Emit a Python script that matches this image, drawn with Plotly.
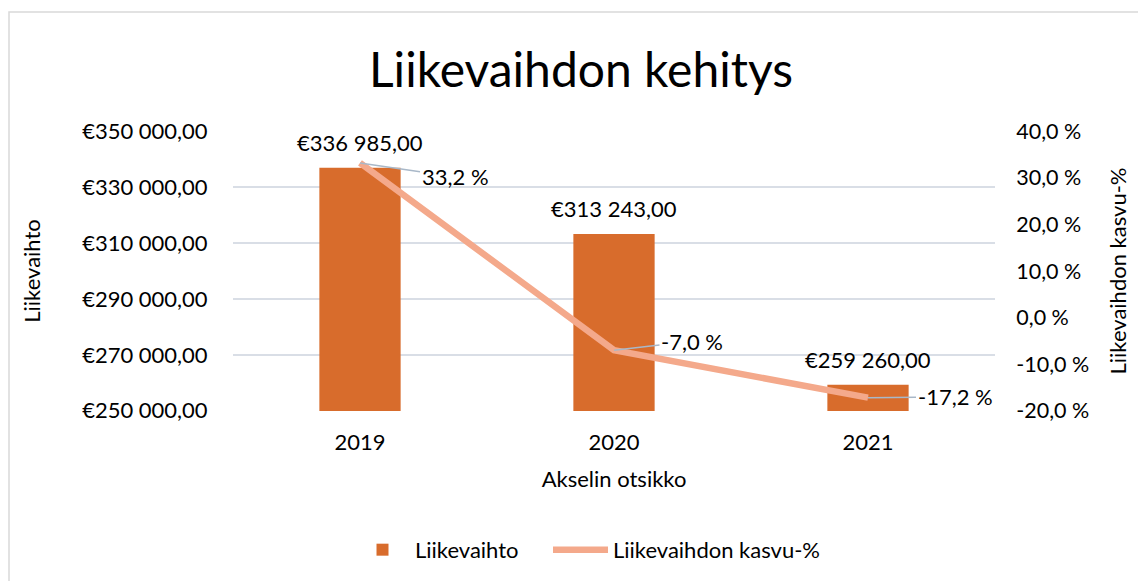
import plotly.graph_objects as go

years = [2019, 2020, 2021]
revenue = [336985.00, 313243.00, 259260.00]
growth = [33.2, -7.0, -17.2]
left_ticks = [250000, 270000, 290000, 310000, 330000, 350000]
right_ticks = [-20, -10, 0, 10, 20, 30, 40]

FONT = "Lato"
TXT = "#000000"
FS = 22


def eur(v):
    s = f"{v:,.2f}".replace(",", " ").replace(".", ",")
    return "€" + s


def pct(v):
    return f"{v:.1f} %".replace(".", ",")


fig = go.Figure()
fig.add_trace(go.Bar(
    x=years, y=revenue, name="Liikevaihto", width=0.32, legend="legend",
    marker=dict(color="#D86C2C", line=dict(width=0)),
))
fig.add_trace(go.Scatter(
    x=years, y=growth, name="Liikevaihdon kasvu-%", yaxis="y2", legend="legend2",
    mode="lines", line=dict(color="#F4A98B", width=6.5),
))

for yr, v in zip(years, revenue):
    fig.add_annotation(x=yr, y=v, text=eur(v), showarrow=False, yshift=25,
                       font=dict(family=FONT, size=FS, color=TXT))

offsets = [(95, 14), (78, -9), (87, -1)]
for yr, g, (ax, ay) in zip(years, growth, offsets):
    fig.add_annotation(
        x=yr, y=g, yref="y2", text=pct(g),
        showarrow=True, arrowhead=0, arrowwidth=1.5, arrowcolor="#A9B8C8",
        ax=ax, ay=ay, standoff=0,
        font=dict(family=FONT, size=FS, color=TXT),
    )

fig.add_shape(type="rect", xref="paper", yref="paper",
              x0=1 / 762 - 225 / 762, x1=1.4, y0=-0.8, y1=1.425,
              line=dict(color="#D9D9D9", width=1.5), layer="below")

leg_common = dict(orientation="h", xanchor="left", y=-0.496, yanchor="middle",
                  font=dict(size=FS), itemwidth=55, bgcolor="rgba(0,0,0,0)")

fig.update_layout(
    width=1146, height=581,
    margin=dict(l=225, r=159, t=123, b=178, autoexpand=False),
    paper_bgcolor="white", plot_bgcolor="white",
    font=dict(family=FONT, size=FS, color=TXT),
    title=dict(text="Liikevaihdon kehitys", x=0.5, xanchor="center",
               y=1 - 62 / 581, yanchor="middle",
               font=dict(family=FONT, size=48, color=TXT)),
    xaxis=dict(range=[2018.5, 2021.5], tickvals=years, ticktext=[str(y) for y in years],
               showgrid=False, showline=False, zeroline=False,
               ticks="outside", ticklen=12, tickcolor="rgba(0,0,0,0)",
               automargin=False, tickfont=dict(size=FS),
               title=dict(text="Akselin otsikko", font=dict(size=FS), standoff=17)),
    yaxis=dict(range=[249900, 350100], tickvals=left_ticks,
               ticktext=[eur(v) for v in left_ticks],
               showgrid=True, gridcolor="#D9DEE6", gridwidth=1.5,
               zeroline=False, showline=False,
               ticks="outside", ticklen=20, tickcolor="rgba(0,0,0,0)", automargin=False,
               tickfont=dict(size=FS),
               title=dict(text="Liikevaihto", font=dict(size=FS), standoff=35)),
    yaxis2=dict(range=[-20.06, 40.06], tickvals=right_ticks, overlaying="y", side="right",
                anchor="x", ticktext=[pct(v) for v in right_ticks],
                showgrid=False, zeroline=False, showline=False,
                ticks="outside", ticklen=16, tickcolor="rgba(0,0,0,0)", automargin=False,
                tickfont=dict(size=21.5),
                title=dict(text="Liikevaihdon kasvu-%", font=dict(size=FS), standoff=22)),
    legend=dict(x=(350 - 233) / 762, **leg_common),
    legend2=dict(x=(548 - 233) / 762, **leg_common),
    showlegend=True,
)
fig.write_html("out.html")
